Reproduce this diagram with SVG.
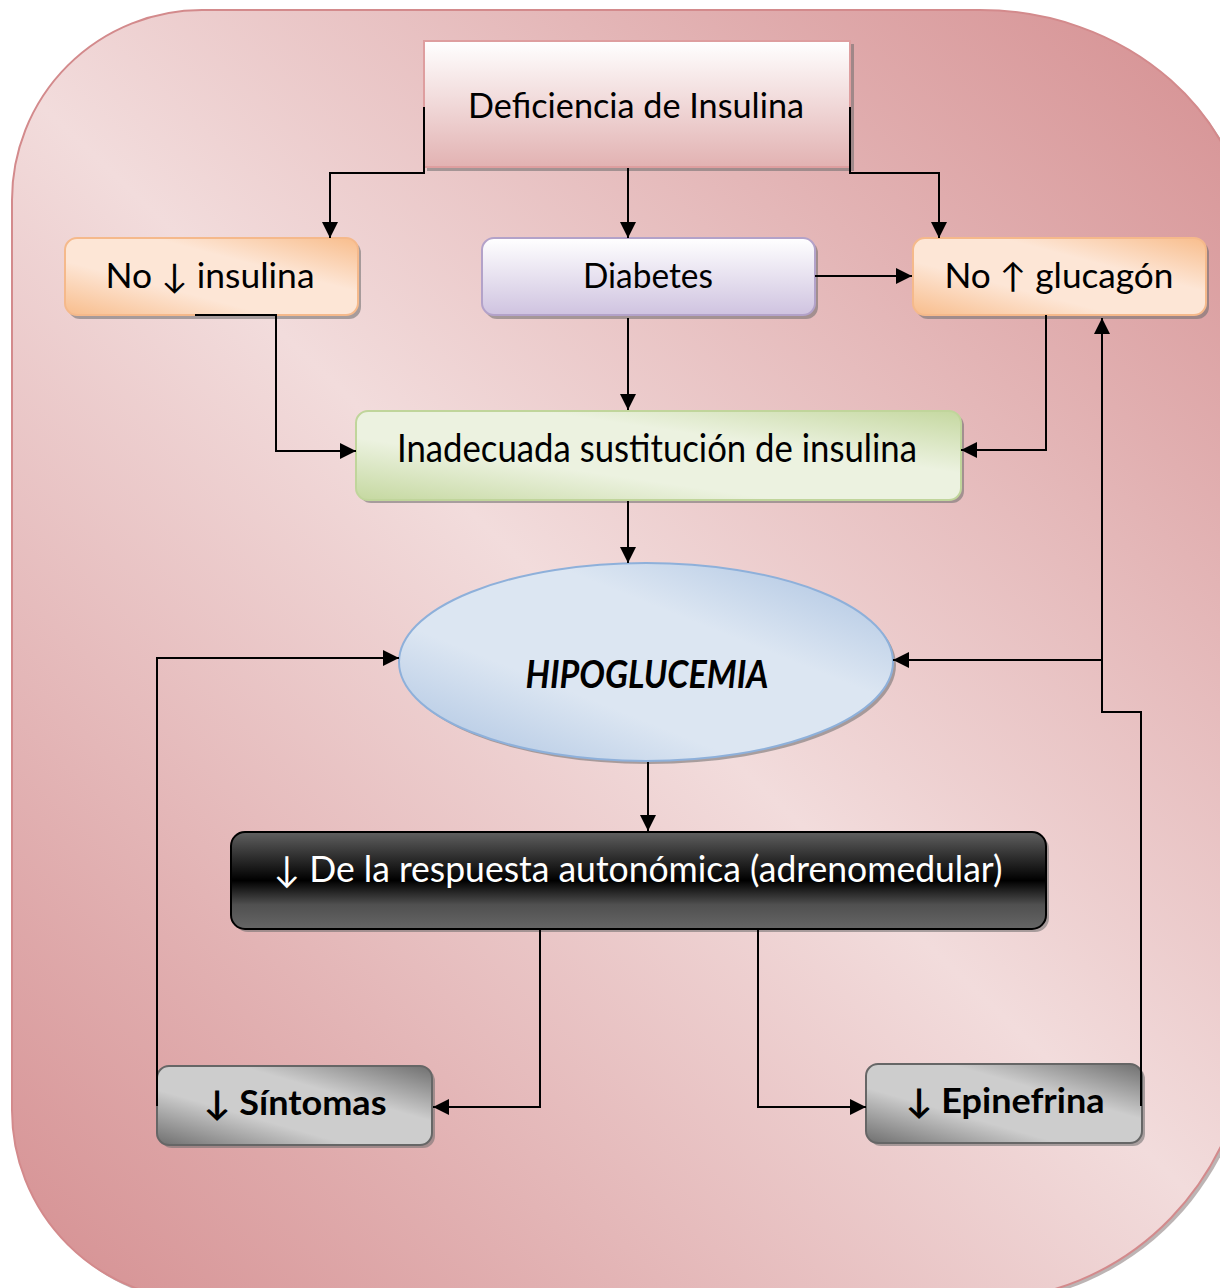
<svg xmlns="http://www.w3.org/2000/svg" width="1220" height="1288" viewBox="0 0 1220 1288">
<defs>
  <linearGradient id="bg" gradientUnits="userSpaceOnUse" x1="1220" y1="0" x2="0" y2="1288">
    <stop offset="0" stop-color="#d58f91"/>
    <stop offset="0.5" stop-color="#f2dcdc"/>
    <stop offset="1" stop-color="#d58f91"/>
  </linearGradient>
  <linearGradient id="gTop" x1="0" y1="0" x2="0" y2="1">
    <stop offset="0" stop-color="#ffffff"/>
    <stop offset="1" stop-color="#e2b2b2"/>
  </linearGradient>
  <linearGradient id="gOrange" x1="0" y1="1" x2="1" y2="0">
    <stop offset="0" stop-color="#f8bd8c"/>
    <stop offset="0.35" stop-color="#fde6d6"/>
    <stop offset="0.65" stop-color="#fde6d6"/>
    <stop offset="1" stop-color="#f8bd8c"/>
  </linearGradient>
  <linearGradient id="gPurple" x1="0" y1="0" x2="0" y2="1">
    <stop offset="0" stop-color="#ffffff"/>
    <stop offset="1" stop-color="#cfc3e0"/>
  </linearGradient>
  <linearGradient id="gGreen" x1="0" y1="1" x2="1" y2="0">
    <stop offset="0" stop-color="#c5d8a0"/>
    <stop offset="0.35" stop-color="#ecf2e0"/>
    <stop offset="0.65" stop-color="#ecf2e0"/>
    <stop offset="1" stop-color="#c5d8a0"/>
  </linearGradient>
  <linearGradient id="gBlue" x1="0" y1="1" x2="1" y2="0">
    <stop offset="0" stop-color="#a9c1e0"/>
    <stop offset="0.35" stop-color="#dce6f2"/>
    <stop offset="0.65" stop-color="#dce6f2"/>
    <stop offset="1" stop-color="#a9c1e0"/>
  </linearGradient>
  <linearGradient id="gBlack" x1="0" y1="0" x2="0" y2="1">
    <stop offset="0" stop-color="#606060"/>
    <stop offset="0.5" stop-color="#000000"/>
    <stop offset="0.75" stop-color="#505050"/>
    <stop offset="1" stop-color="#666666"/>
  </linearGradient>
  <linearGradient id="gGray" x1="0" y1="1" x2="1" y2="0">
    <stop offset="0" stop-color="#6f6f6f"/>
    <stop offset="0.35" stop-color="#cdcdcd"/>
    <stop offset="0.65" stop-color="#cdcdcd"/>
    <stop offset="1" stop-color="#6f6f6f"/>
  </linearGradient>
  <marker id="arr" viewBox="0 0 10 10" refX="10" refY="5" markerWidth="16" markerHeight="16" markerUnits="userSpaceOnUse" orient="auto">
    <path d="M0,0 L10,5 L0,10 z" fill="#000"/>
  </marker>
  <path id="frame" d="M12,200 A190,190 0 0 1 202,10 H980 A270,240 0 0 1 1250,250 V1020 A270,280 0 0 1 980,1300 H202 A190,190 0 0 1 12,1110 Z"/>
</defs>
<style>
  .t { font-family: Lato, "Open Sans", "DejaVu Sans", sans-serif; fill: #000; text-anchor: middle; }
  .shadow { fill: #6b6b6b; opacity: 0.55; }
  .ca { fill: none; stroke: #000; stroke-width: 2; marker-end: url(#arr); }
</style>

<g id="background">
  <use href="#frame" transform="translate(3,3)" fill="#7a6a6a" opacity="0.5"/>
  <use href="#frame" fill="url(#bg)" stroke="#d38a8c" stroke-width="2"/>
</g>

<g id="n-deficiencia">
  <rect class="shadow" x="427" y="44" width="427" height="127"/>
  <rect x="424" y="41" width="426" height="126" fill="url(#gTop)" stroke="#de9e9f" stroke-width="2"/>
  <text class="t" x="636" y="118" font-size="35" textLength="336" lengthAdjust="spacingAndGlyphs">Deficiencia de Insulina</text>
</g>

<g id="n-no-insulina">
  <rect class="shadow" x="68" y="241" width="293" height="78" rx="12"/>
  <rect x="65" y="238" width="293" height="77" rx="12" fill="url(#gOrange)" stroke="#f5b98b" stroke-width="2"/>
  <text class="t" x="210" y="288" font-size="34" textLength="209" lengthAdjust="spacingAndGlyphs">No ↓ insulina</text>
</g>

<g id="n-diabetes">
  <rect class="shadow" x="485" y="241" width="333" height="78" rx="12"/>
  <rect x="482" y="238" width="333" height="77" rx="12" fill="url(#gPurple)" stroke="#b3a2c9" stroke-width="2"/>
  <text class="t" x="648" y="288" font-size="34" textLength="130" lengthAdjust="spacingAndGlyphs">Diabetes</text>
</g>

<g id="n-glucagon">
  <rect class="shadow" x="916" y="241" width="293" height="78" rx="12"/>
  <rect x="913" y="238" width="293" height="77" rx="12" fill="url(#gOrange)" stroke="#f5b98b" stroke-width="2"/>
  <text class="t" x="1059" y="288" font-size="34" textLength="229" lengthAdjust="spacingAndGlyphs">No ↑ glucagón</text>
</g>

<g id="n-inadecuada">
  <rect class="shadow" x="359" y="414" width="605" height="89" rx="12"/>
  <rect x="356" y="411" width="605" height="89" rx="12" fill="url(#gGreen)" stroke="#c0d59b" stroke-width="2"/>
  <text class="t" x="657" y="462" font-size="38" textLength="520" lengthAdjust="spacingAndGlyphs">Inadecuada sustitución de insulina</text>
</g>

<g id="n-hipoglucemia">
  <ellipse class="shadow" cx="649" cy="665" rx="247" ry="99"/>
  <ellipse cx="646" cy="662" rx="247" ry="99" fill="url(#gBlue)" stroke="#8eb0da" stroke-width="2"/>
  <text class="t" x="647" y="688" font-size="38" font-weight="bold" font-style="italic" textLength="243" lengthAdjust="spacingAndGlyphs">HIPOGLUCEMIA</text>
</g>

<g id="n-respuesta">
  <rect class="shadow" x="234" y="835" width="815" height="97" rx="14"/>
  <rect x="231" y="832" width="815" height="97" rx="14" fill="url(#gBlack)" stroke="#000" stroke-width="2"/>
  <text class="t" x="638" y="882" font-size="36" style="fill:#fff" textLength="729" lengthAdjust="spacingAndGlyphs">↓ De la respuesta autonómica (adrenomedular)</text>
</g>

<g id="n-sintomas">
  <rect class="shadow" x="160" y="1069" width="275" height="79" rx="12"/>
  <rect x="157" y="1066" width="275" height="79" rx="12" fill="url(#gGray)" stroke="#666" stroke-width="2"/>
  <text class="t" x="295" y="1115" font-size="34" font-weight="bold" textLength="183" lengthAdjust="spacingAndGlyphs">↓ Síntomas</text>
</g>

<g id="n-epinefrina">
  <rect class="shadow" x="869" y="1067" width="276" height="79" rx="12"/>
  <rect x="866" y="1064" width="276" height="79" rx="12" fill="url(#gGray)" stroke="#666" stroke-width="2"/>
  <text class="t" x="1005" y="1113" font-size="34" font-weight="bold" textLength="199" lengthAdjust="spacingAndGlyphs">↓ Epinefrina</text>
</g>

<g id="connectors">
  <path class="ca" d="M424,107 V173 H330 V238"/>
  <path class="ca" d="M850,107 V173 H939 V238"/>
  <path class="ca" d="M628,168 V238"/>
  <path class="ca" d="M815,276 H912"/>
  <path class="ca" d="M628,318 V410"/>
  <path class="ca" d="M195,315 H276 V451 H356"/>
  <path class="ca" d="M1046,315 V450 H961"/>
  <path class="ca" d="M628,501 V563"/>
  <path class="ca" d="M157,1106 V658 H399"/>
  <path class="ca" d="M1102,660 H893"/>
  <path class="ca" d="M1141,1106 V712 H1102 V318"/>
  <path class="ca" d="M648,762 V831"/>
  <path class="ca" d="M540,930 V1107 H433"/>
  <path class="ca" d="M758,930 V1107 H866"/>
</g>
</svg>
